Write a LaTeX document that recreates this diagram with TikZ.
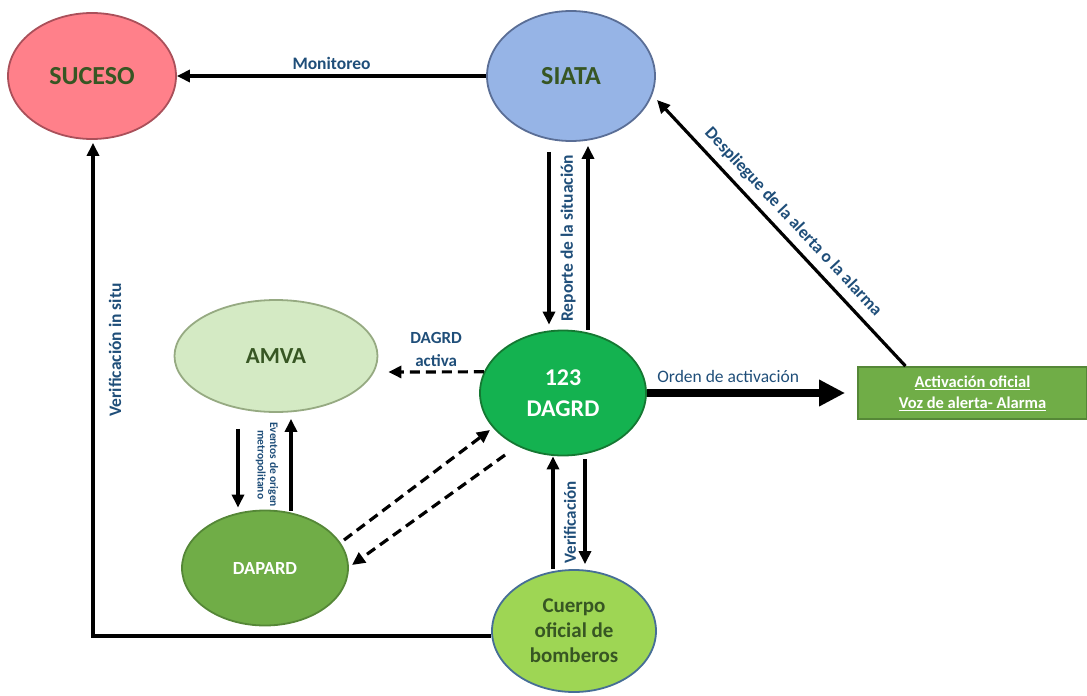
\documentclass[tikz,border=0pt]{standalone}
\usepackage{fontspec}
\setmainfont{Carlito}
\usetikzlibrary{shapes.geometric, arrows.meta}
\definecolor{redfill}{RGB}{255,128,138}
\definecolor{redline}{RGB}{170,80,90}
\definecolor{bluefill}{RGB}{150,180,230}
\definecolor{blueline}{RGB}{90,110,150}
\definecolor{palefill}{RGB}{212,234,196}
\definecolor{paleline}{RGB}{150,170,130}
\definecolor{greenfill}{RGB}{20,178,80}
\definecolor{greenline}{RGB}{20,120,50}
\definecolor{olivefill}{RGB}{112,173,71}
\definecolor{oliveline}{RGB}{85,135,55}
\definecolor{limefill}{RGB}{158,214,84}
\definecolor{limeline}{RGB}{70,110,150}
\definecolor{darkgreen}{RGB}{55,86,35}
\definecolor{labelblue}{RGB}{31,78,121}
\tikzstyle{ball} = [ellipse, inner sep=0pt, align=center, line width=1.8pt]
\tikzstyle{redball} = [ball, minimum width=168pt, minimum height=126pt, fill=redfill, draw=redline, text=darkgreen, font=\fontsize{26}{30}\selectfont\bfseries]
\tikzstyle{blueball} = [ball, minimum width=168pt, minimum height=130pt, fill=bluefill, draw=blueline, text=darkgreen, font=\fontsize{26}{30}\selectfont\bfseries]
\tikzstyle{greenball} = [ball, minimum width=166pt, minimum height=125pt, fill=greenfill, draw=greenline, text=white, font=\fontsize{24}{31}\selectfont\bfseries]
\tikzstyle{paleball} = [ball, minimum width=203pt, minimum height=112pt, fill=palefill, draw=paleline, text=darkgreen, font=\fontsize{23}{28}\selectfont\bfseries]
\tikzstyle{oliveball} = [ball, minimum width=166pt, minimum height=115pt, fill=olivefill, draw=oliveline, text=white, font=\fontsize{18.5}{22}\selectfont\bfseries]
\tikzstyle{limeball} = [ball, minimum width=164pt, minimum height=122pt, fill=limefill, draw=limeline, text=darkgreen, font=\fontsize{21}{25}\selectfont\bfseries]
\tikzstyle{alarmbox} = [rectangle, minimum width=229pt, minimum height=52pt, fill=olivefill, draw=oliveline, line width=1.8pt, text=white, align=center, font=\fontsize{16.5}{21}\selectfont\bfseries]
\tikzstyle{tag} = [text=labelblue, align=center, inner sep=1pt, font=\fontsize{17.5}{20}\selectfont\bfseries]
\tikzstyle{arrow} = [-{Triangle[length=13pt,width=12pt]}, line width=3.2pt]
\tikzstyle{bigarrow} = [-{Triangle[length=26pt,width=25pt]}, line width=7.5pt]
\tikzstyle{dasharrow} = [arrow, dash pattern=on 10pt off 6pt]

\begin{document}
\begin{tikzpicture}[x=1pt, y=-1pt, node distance=150pt]
\useasboundingbox (0,0) rectangle (1087,696);
%nodos
\node (suceso) [redball] at (92,76) {SUCESO};
\node (siata) [blueball, right of=suceso, xshift=329pt] {SIATA};
\node (dagrd) [greenball, below of=siata, xshift=-8pt, yshift=-167pt] {123\\DAGRD};
\node (alarma) [alarmbox, right of=dagrd, xshift=259.5pt] {\underline{Activación oficial}\\\underline{Voz de alerta- Alarma}};
\node (amva) [paleball, left of=dagrd, xshift=-137pt, yshift=37pt] {AMVA};
\node (dapard) [oliveball, below of=amva, xshift=-11pt, yshift=-62pt] {DAPARD};
\node (bomberos) [limeball, below of=dagrd, xshift=11pt, yshift=-88pt] {Cuerpo\\oficial de\\bomberos};

%conexiones
\draw [arrow] (siata.west) -- node[tag, above=4pt] {Monitoreo} (suceso.east);
\draw [arrow] ([xshift=-22pt,yshift=-10pt]siata.south) -- node[tag, xshift=19pt, rotate=90] {Reporte de la situación} ([xshift=-14pt,yshift=5pt]dagrd.north);
\draw [arrow] ([xshift=25pt]dagrd.north) -- ([xshift=17pt,yshift=-4pt]siata.south);
\draw [bigarrow] (dagrd.east) -- node[tag, font=\fontsize{17.5}{20}\selectfont, above=6pt, pos=0.41] {Orden de activación} ([xshift=-12pt]alarma.west);
\draw [arrow] ([xshift=-67pt]alarma.north) -- node[tag, sloped, above=6pt] {Despliegue de la alerta o la alarma} ([xshift=86pt,yshift=-24pt]siata.center);
\draw [dasharrow] (dagrd.165) -- node[tag, font=\fontsize{17}{23}\selectfont\bfseries, above=3pt] {DAGRD\\activa} ([xshift=10pt,yshift=-16pt]amva.east);
\draw [arrow] ([xshift=-38pt,yshift=-16pt]amva.south) -- ([xshift=-27pt,yshift=2pt]dapard.north);
\draw [arrow] ([xshift=26pt,yshift=-1pt]dapard.north) -- node[tag, font=\fontsize{11.5}{12.5}\selectfont\bfseries, xshift=-24pt, rotate=-90] {Eventos de origen\\metropolitano} ([xshift=15pt,yshift=-6pt]amva.south);
\draw [dasharrow] ([xshift=79pt,yshift=28pt]dapard.center) -- ([xshift=-73pt,yshift=-37pt]dagrd.center);
\draw [dasharrow] ([xshift=-58pt,yshift=-62pt]dagrd.center) -- ([xshift=87pt,yshift=3pt]dapard.center);
\draw [arrow] ([xshift=-21pt]bomberos.north) -- ([xshift=-10pt]dagrd.south);
\draw [arrow] ([xshift=22pt,yshift=-3pt]dagrd.south) -- node[tag, font=\fontsize{17}{20}\selectfont\bfseries, pos=0.6, xshift=-15pt, rotate=90] {Verificación} ([xshift=11pt,yshift=5pt]bomberos.north);
\draw [arrow] ([yshift=-5pt]bomberos.west) -| node[tag, pos=0.79, xshift=22pt, rotate=90] {Verificación in situ} ([xshift=1pt,yshift=-3pt]suceso.south);
\end{tikzpicture}
\end{document}
